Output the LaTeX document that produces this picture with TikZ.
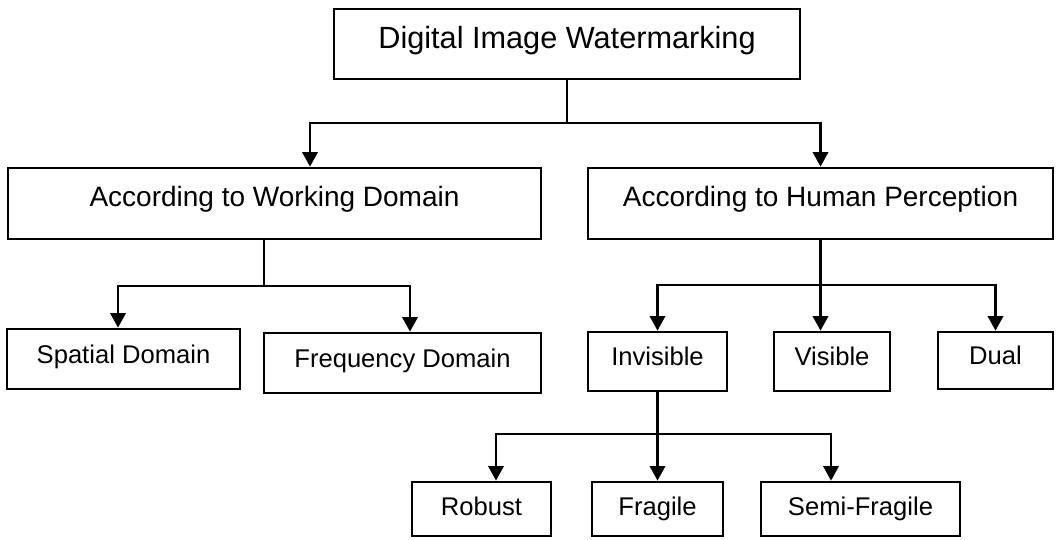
\documentclass[tikz,border=0pt]{standalone}
\usepackage{fontspec}
\setmainfont{Liberation Sans}
\usetikzlibrary{arrows.meta}

\tikzset{
  box/.style={draw, line width=2pt, inner sep=0pt, align=center},
  rootbox/.style={box, text height=16.6pt, text depth=10.6pt, font=\fontsize{23}{27}\selectfont},
  groupbox/.style={box, text height=15.1pt, text depth=10.9pt, minimum height=53.25pt, font=\fontsize{21}{25}\selectfont},
  leafbox/.style={box, text height=13.8pt, text depth=7.7pt, font=\fontsize{19.2}{23}\selectfont},
  lowbox/.style={leafbox, text depth=4.6pt, minimum height=40.5pt},
  link/.style={line width=2pt},
  arr/.style={line width=2pt, -{Triangle[length=11pt,width=11.5pt]}},
}

\begin{document}
\begin{tikzpicture}[x=0.75pt, y=-0.75pt]
    \useasboundingbox (0,0) rectangle (1060,539);

    % Root
    \node[rootbox, minimum width=349.5pt, minimum height=52.5pt] (dig) at (567,44) {Digital Image Watermarking};

    % Two ways of classifying
    \node[groupbox, minimum width=399.75pt] (work) at (274.5,203.5) {According to Working Domain};
    \node[groupbox, minimum width=348.75pt] (human) at (820.5,203.5) {According to Human Perception};

    % Working domain
    \node[leafbox, minimum width=174.75pt, minimum height=45pt] (spatial) at (123.5,359) {Spatial Domain};
    \node[leafbox, minimum width=207.75pt, minimum height=45pt] (freq) at (402.5,363) {Frequency Domain};

    % Human perception
    \node[leafbox, minimum width=104.25pt, minimum height=44.25pt] (invisible) at (657.5,361.5) {Invisible};
    \node[leafbox, minimum width=87pt, minimum height=44.25pt] (visible) at (832,361.5) {Visible};
    \node[leafbox, minimum width=86.25pt, minimum height=42.75pt] (dual) at (995.5,360.5) {Dual};

    % Kinds of invisible marks
    \node[lowbox, minimum width=104.25pt] (robust) at (481.5,509) {Robust};
    \node[lowbox, minimum width=98.25pt] (fragile) at (657.5,509) {Fragile};
    \node[lowbox, minimum width=149.25pt] (semi) at (860.5,509) {Semi-Fragile};

    % Root -> groups
    \coordinate (rootbar) at (567,123);
    \coordinate (rootl) at (310,123);
    \draw[link] (dig.south) -- (rootbar);
    \draw[arr] (rootbar) -- (rootl) -- (rootl |- work.north);
    \draw[arr] (rootbar) -| (human.north);

    % Working domain -> leaves
    \coordinate (workbar) at (264,286);
    \coordinate (workl) at (118,286);
    \coordinate (workr) at (410,286);
    \draw[link] (work.south -| workbar) -- (workbar);
    \draw[arr] (workbar) -- (workl) -- (workl |- spatial.north);
    \draw[arr] (workbar) -- (workr) -- (workr |- freq.north);

    % Human perception -> leaves
    \coordinate (humanbar) at (821,285);
    \draw[arr] (human.south) -- (human.south |- visible.north);
    \draw[arr] (humanbar) -| (invisible.north);
    \draw[arr] (humanbar) -| (dual.north);

    % Invisible -> leaves
    \coordinate (invbar) at (658,434);
    \coordinate (invl) at (496,434);
    \coordinate (invr) at (831,434);
    \draw[arr] (invisible.south) -- (invisible.south |- fragile.north);
    \draw[arr] (invbar) -- (invl) -- (invl |- robust.north);
    \draw[arr] (invbar) -- (invr) -- (invr |- semi.north);

\end{tikzpicture}
\end{document}
